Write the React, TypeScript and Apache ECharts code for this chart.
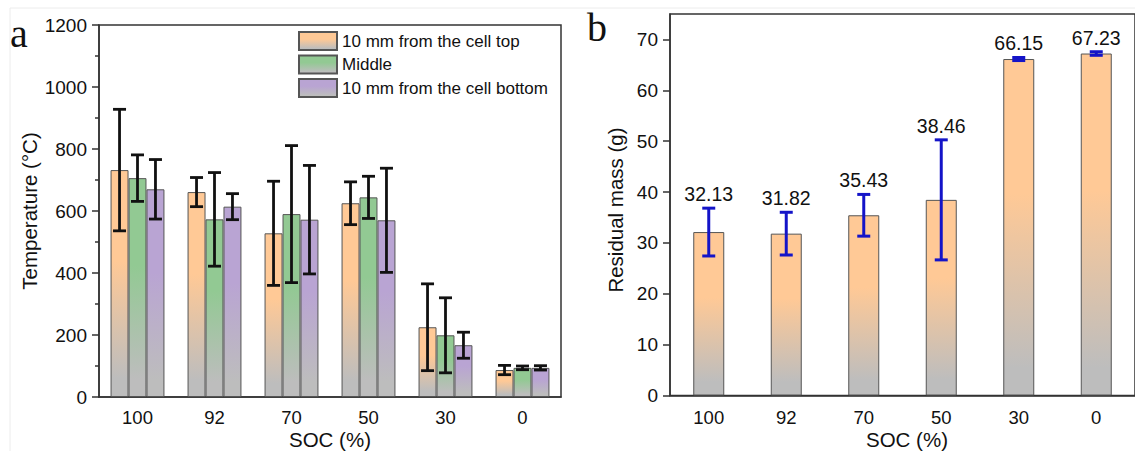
import React, { useEffect, useRef } from "react";
import * as echarts from "echarts";

const categories = ["100", "92", "70", "50", "30", "0"];
const topVals = [732, 661, 528, 625, 225, 87];
const topErr = [196, 47, 168, 69, 140, 15];
const midVals = [706, 573, 590, 644, 199, 94];
const midErr = [75, 151, 221, 68, 121, 6];
const botVals = [670, 614, 572, 570, 167, 94];
const botErr = [96, 42, 175, 168, 42, 7];
const massVals = [32.13, 31.82, 35.43, 38.46, 66.15, 67.23];
const massErr = [4.7, 4.2, 4.1, 11.8, 0.3, 0.35];
const massTicks = [0, 10, 20, 30, 40, 50, 60, 70];
const massMinorTicks = [5, 15, 25, 35, 45, 55, 65];
const seriesNames = ["10 mm from the cell top", "Middle", "10 mm from the cell bottom"];

const FONT = "Liberation Sans, Arial, sans-serif";
const SERIF = "Liberation Serif, Times New Roman, serif";
const GRAY = "#bdbdbd";

function grad(c: string) {
  return new echarts.graphic.LinearGradient(0, 0, 0, 1, [
    { offset: 0, color: c },
    { offset: 0.4, color: c },
    { offset: 0.92, color: GRAY },
    { offset: 1, color: GRAY },
  ]);
}

const COLORS = ["#ffc996", "#92c993", "#b9a4d3"];

export default function App() {
  const ref = useRef<HTMLDivElement>(null);
  useEffect(() => {
    if (!ref.current) return;
    const chart = echarts.init(ref.current, null, { renderer: "svg" });
    const groupVals = [topVals, midVals, botVals];
    const groupErr = [topErr, midErr, botErr];

    const axisLineStyle = { color: "#333", width: 1.5 };
    const yLabelStyle = { fontSize: 19, color: "#111", fontFamily: FONT };
    const xLabelStyle = { fontSize: 18.5, color: "#111", fontFamily: FONT };
    const nameText = (text: string, x: number, y: number, rotation = 0) => ({
      type: "text",
      x,
      y,
      rotation,
      style: {
        text,
        fontSize: 20.5,
        fontFamily: FONT,
        fill: "#111",
        align: "center",
        verticalAlign: "middle",
      },
    });

    const barSeries: any[] = groupVals.map((vals, s) => ({
      name: seriesNames[s],
      type: "bar",
      xAxisIndex: 0,
      yAxisIndex: 0,
      data: vals,
      barGap: "0%",
      barCategoryGap: "30%",
      itemStyle: { color: grad(COLORS[s]), borderColor: "#555", borderWidth: 1 },
      z: 2,
    }));

    const errSeries: any[] = groupVals.map((vals, s) => ({
      type: "custom",
      xAxisIndex: 0,
      yAxisIndex: 0,
      z: 5,
      data: vals.map((v, i) => [i, v, groupErr[s][i]]),
      encode: { x: 0, y: 1 },
      renderItem: (params: any, api: any) => {
        const idx = api.value(0);
        const v = api.value(1);
        const e = api.value(2);
        const band = api.size([1, 0])[0];
        const bw = (band * 0.7) / 3;
        const off = (s - 1) * bw;
        const hi = api.coord([idx, v + e]);
        const lo = api.coord([idx, v - e]);
        const x = hi[0] + off;
        const cap = 6.5;
        const st = { stroke: "#111", lineWidth: 2.8 };
        return {
          type: "group",
          children: [
            { type: "line", shape: { x1: x, y1: hi[1], x2: x, y2: lo[1] }, style: st },
            { type: "line", shape: { x1: x - cap, y1: hi[1], x2: x + cap, y2: hi[1] }, style: st },
            { type: "line", shape: { x1: x - cap, y1: lo[1], x2: x + cap, y2: lo[1] }, style: st },
          ],
        };
      },
    }));

    const massBar = {
      type: "bar",
      xAxisIndex: 1,
      yAxisIndex: 1,
      data: massVals,
      barWidth: 31,
      itemStyle: { color: grad(COLORS[0]), borderColor: "#555", borderWidth: 1 },
      z: 2,
    };

    const massErrSeries = {
      type: "custom",
      xAxisIndex: 1,
      yAxisIndex: 1,
      z: 5,
      data: massVals.map((v, i) => [i, v, massErr[i]]),
      encode: { x: 0, y: 1 },
      renderItem: (params: any, api: any) => {
        const idx = api.value(0);
        const v = api.value(1);
        const e = api.value(2);
        const hi = api.coord([idx, v + e]);
        const lo = api.coord([idx, v - e]);
        const x = hi[0];
        const cap = 6.5;
        const st = { stroke: "#1414c8", lineWidth: 3 };
        return {
          type: "group",
          children: [
            { type: "line", shape: { x1: x, y1: hi[1], x2: x, y2: lo[1] }, style: st },
            { type: "line", shape: { x1: x - cap, y1: hi[1], x2: x + cap, y2: hi[1] }, style: st },
            { type: "line", shape: { x1: x - cap, y1: lo[1], x2: x + cap, y2: lo[1] }, style: st },
            {
              type: "text",
              x: x,
              y: hi[1] - 4,
              style: {
                text: v.toFixed(2),
                fontSize: 19.5,
                fontFamily: FONT,
                fill: "#111",
                align: "center",
                verticalAlign: "bottom",
              },
            },
          ],
        };
      },
    };

    chart.setOption({
      animation: false,
      backgroundColor: "#fff",
      grid: [
        { left: 99, top: 25, width: 462, height: 372, show: true, borderColor: "#333", borderWidth: 1.5 },
        { left: 670, top: 14, width: 474, height: 381.5, show: true, borderColor: "#333", borderWidth: 1.5 },
      ],
      legend: {
        data: seriesNames,
        orient: "vertical",
        left: 298,
        top: 31,
        padding: 0,
        itemWidth: 38,
        itemHeight: 18,
        itemGap: 3.5,
        icon: "rect",
        textStyle: { fontSize: 17, color: "#111", fontFamily: FONT },
      },
      xAxis: [
        {
          type: "category",
          gridIndex: 0,
          data: categories,
          axisLine: { lineStyle: axisLineStyle },
          axisTick: { alignWithLabel: true, length: 6, lineStyle: axisLineStyle },
          axisLabel: { ...xLabelStyle, margin: 11 },
        },
        {
          type: "category",
          gridIndex: 1,
          data: categories,
          axisLine: { lineStyle: axisLineStyle },
          axisTick: { alignWithLabel: true, length: 6, lineStyle: axisLineStyle },
          axisLabel: { ...xLabelStyle, margin: 12 },
        },
      ],
      yAxis: [
        {
          type: "value",
          gridIndex: 0,
          min: 0,
          max: 1200,
          interval: 200,
          axisLine: { show: true, lineStyle: axisLineStyle },
          axisTick: { show: true, length: 7, lineStyle: axisLineStyle },
          minorTick: { show: true, splitNumber: 2, length: 4, lineStyle: axisLineStyle },
          splitLine: { show: false },
          axisLabel: { ...yLabelStyle, margin: 12, formatter: (v: number) => String(v) },
        },
        {
          type: "value",
          gridIndex: 1,
          min: 0,
          max: 75,
          interval: 10,
          axisLine: { show: true, lineStyle: axisLineStyle },
          axisTick: { show: true, length: 7, lineStyle: axisLineStyle, customValues: massTicks },
          splitLine: { show: false },
          axisLabel: { ...yLabelStyle, margin: 12, customValues: massTicks },
        },
        {
          type: "value",
          gridIndex: 1,
          min: 0,
          max: 75,
          interval: 5,
          axisLine: { show: false },
          axisTick: { show: true, length: 4, lineStyle: axisLineStyle, customValues: massMinorTicks },
          splitLine: { show: false },
          axisLabel: { show: false },
        },
      ],
      graphic: [
        { type: "line", shape: { x1: 10, y1: 8, x2: 1135, y2: 8 }, style: { stroke: "#ececec", lineWidth: 1 } },
        { type: "line", shape: { x1: 10, y1: 8, x2: 10, y2: 451 }, style: { stroke: "#ececec", lineWidth: 1 } },
        {
          type: "text",
          left: 10,
          top: 13,
          style: { text: "a", fontSize: 40, fontFamily: SERIF, fill: "#111" },
        },
        {
          type: "text",
          left: 587,
          top: 7,
          style: { text: "b", fontSize: 40, fontFamily: SERIF, fill: "#111" },
        },
        nameText("SOC (%)", 330, 439.5),
        nameText("SOC (%)", 907, 439.5),
        nameText("Temperature (°C)", 29, 211, Math.PI / 2),
        nameText("Residual mass (g)", 615, 210, Math.PI / 2),
      ],
      series: [...barSeries, ...errSeries, massBar, massErrSeries],
    });
    return () => chart.dispose();
  }, []);
  return (
    <div
      ref={ref}
      style={{ position: "fixed", left: 0, top: 0, width: 1135, height: 451 }}
    />
  );
}
